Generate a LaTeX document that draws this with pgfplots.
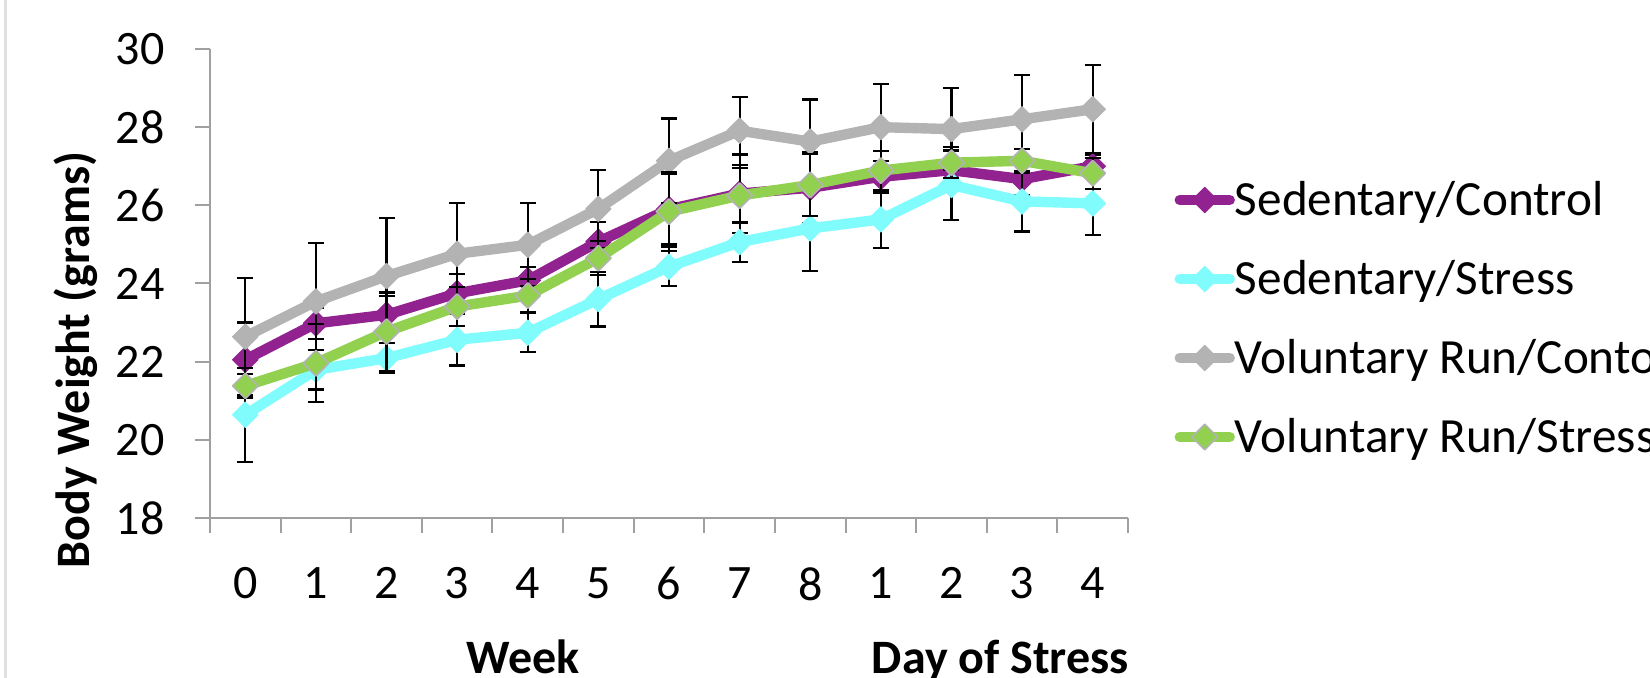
\documentclass[border=0pt]{standalone}
\usepackage{fontspec}
\setmainfont{Carlito}
\usepackage{pgfplots}
\usepackage{pgfplotstable}
\pgfplotsset{compat=1.18}
\definecolor{sedctl}{RGB}{146,34,144}
\definecolor{sedstr}{RGB}{128,252,252}
\definecolor{vrctl}{RGB}{179,179,179}
\definecolor{vrstr}{RGB}{146,208,80}
\definecolor{axisgray}{RGB}{160,160,160}
\newcommand\fs{\fontsize{24bp}{28bp}\selectfont}
\newcommand\lfs{\fontsize{24.6bp}{28bp}\selectfont}

\pgfplotstableread{
x sc sce ss sse vc vce vs vse
0 22.05 0.95 20.64 1.2 22.64 1.5 21.38 0.3
1 22.98 0.4 21.79 0.5 23.54 1.5 21.96 1.0
2 23.2 0.47 22.09 0.38 24.19 1.48 22.77 1.0
3 23.75 0.5 22.56 0.66 24.76 1.29 23.41 0.5
4 24.08 0.35 22.74 0.5 24.99 1.06 23.69 0.43
5 25.07 0.5 23.6 0.7 25.91 1.0 24.65 0.43
6 25.9 0.9 24.43 0.5 27.14 1.08 25.84 1.0
7 26.3 1.0 25.06 0.5 27.91 0.87 26.25 0.7
8 26.45 0.9 25.41 1.09 27.63 1.08 26.52 0.8
9 26.73 0.4 25.64 0.74 28.0 1.1 26.89 0.5
10 26.9 0.5 26.52 0.9 27.95 1.05 27.09 0.4
11 26.67 0.4 26.1 0.77 28.2 1.14 27.14 0.3
12 27.0 0.3 26.05 0.8 28.46 1.13 26.82 0.4
}\data

\begin{document}
\begin{tikzpicture}
\useasboundingbox (0,0) rectangle (825bp,339bp);
\clip (0,0) rectangle (825bp,339bp);
\fill[white] (0,0) rectangle (825bp,339bp);
\draw[black!12, line width=1.5bp] (2.5bp,0) -- (2.5bp,339bp);
\begin{axis}[
  at={(105bp,80bp)}, anchor=south west,
  scale only axis, width=459bp, height=234.5bp,
  xmin=-0.5, xmax=12.5, ymin=18, ymax=30,
  clip mode=individual,
  ytick={18,20,...,30},
  xtick={0,...,12},
  xticklabels={0,1,2,3,4,5,6,7,8,1,2,3,4},
  xtick style={draw=none},
  extra x ticks={-0.5,0.5,...,12.5},
  extra x tick labels={},
  extra x tick style={xtick style={draw=axisgray, line width=1bp}},
  ytick style={draw=axisgray, line width=1bp},
  tick align=outside,
  major tick length=7.5bp,
  axis x line*=bottom, axis y line*=left,
  axis line style={axisgray, line width=1.2bp},
  /pgf/number format/assume math mode=true,
  ticklabel style={font=\fs},
  yticklabel style={inner sep=0pt, anchor=east, xshift=-15bp},
  xticklabel style={inner sep=0pt, anchor=north, yshift=-17bp},
  legend cell align=left,
  legend style={at={(rel axis cs:1.0507,0.711)}, anchor=north west, draw=none, fill=none,
    inner sep=0pt, outer sep=0pt, row sep=24bp, column sep=0bp, font=\lfs,
    nodes={inner sep=0pt, text height=15.5bp, text depth=0bp}},
  legend image code/.code={
    \draw[mark repeat=2, mark phase=2, line cap=round, #1] plot coordinates {(0bp,0bp) (12.5bp,0bp) (25bp,0bp)};
  },
  every axis plot/.append style={line width=5.2bp, line join=round},
]
\addplot[sedctl, mark=square*, mark size=4.5bp, mark options={rotate=45, line width=0.5bp, fill=sedctl, draw=sedctl},
  error bars/.cd, y dir=both, y explicit, error bar style={black, line width=1.1bp},
  error mark options={rotate=90, black, line width=1.1bp, mark size=4bp}]
  table[x=x, y=sc, y error=sce] {\data};
\addlegendentry{Sedentary/Control}
\addplot[sedstr, mark=square*, mark size=4.5bp, mark options={rotate=45, line width=0.5bp, fill=sedstr, draw=sedstr},
  error bars/.cd, y dir=both, y explicit, error bar style={black, line width=1.1bp},
  error mark options={rotate=90, black, line width=1.1bp, mark size=4bp}]
  table[x=x, y=ss, y error=sse] {\data};
\addlegendentry{Sedentary/Stress}
\addplot[vrctl, mark=square*, mark size=4.5bp, mark options={rotate=45, line width=0.5bp, fill=vrctl, draw=vrctl},
  error bars/.cd, y dir=both, y explicit, error bar style={black, line width=1.1bp},
  error mark options={rotate=90, black, line width=1.1bp, mark size=4bp}]
  table[x=x, y=vc, y error=vce] {\data};
\addlegendentry{Voluntary Run/Contol}
\addplot[vrstr, mark=square*, mark size=4.5bp, mark options={rotate=45, line width=0.8bp, fill=vrstr, draw=vrctl},
  error bars/.cd, y dir=both, y explicit, error bar style={black, line width=1.1bp},
  error mark options={rotate=90, black, line width=1.1bp, mark size=4bp}]
  table[x=x, y=vs, y error=vse] {\data};
\addlegendentry{Voluntary Run/Stress}
\node[rotate=90, font=\fs\bfseries, anchor=center] at (rel axis cs:-0.146,0.337) {Body Weight (grams)};
\node[font=\fs\bfseries, anchor=base] at (rel axis cs:0.341,-0.3305) {Week};
\node[font=\fs\bfseries, anchor=base] at (rel axis cs:0.861,-0.3305) {Day of Stress};
\end{axis}
\end{tikzpicture}
\end{document}
